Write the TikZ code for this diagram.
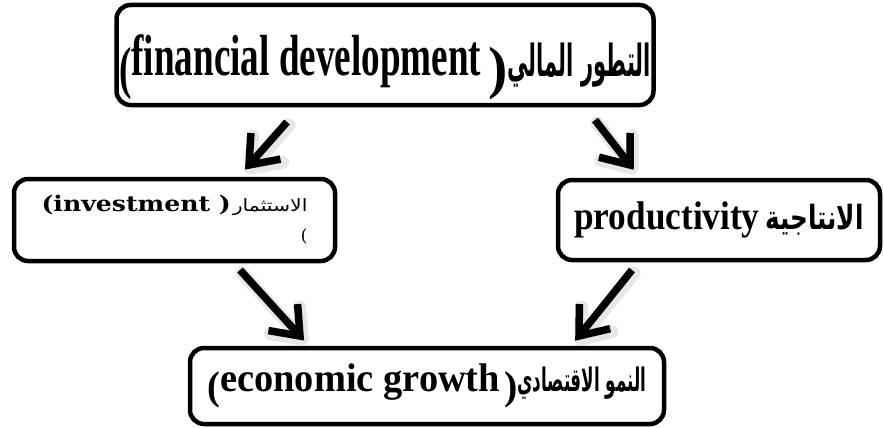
\documentclass[tikz,border=0pt]{standalone}
\usepackage{fontspec}
\setmainfont{Liberation Serif}
\newfontfamily\arabfont[Script=Arabic]{DejaVu Sans}
\newfontfamily\invfont{DejaVu Serif}
\TeXXeTstate=1
\usetikzlibrary{calc}
\newcommand{\lpar}{\raisebox{-0.2em}{(}}
\newcommand{\rpar}{\raisebox{-0.2em}{)}}
\newcommand{\chevarrow}[2]{%
  \draw[arrshadow] (#1) -- (#2) ($(#2)!32pt!38:(#1)$) -- (#2) -- ($(#2)!32pt!-38:(#1)$);
  \draw[arrline, shorten >=4pt] (#1) -- (#2);
  \draw[arrline] ($(#2)!32pt!38:(#1)$) -- (#2) -- ($(#2)!32pt!-38:(#1)$);}
\begin{document}
\begin{tikzpicture}[x=1pt,y=-1pt,
  box/.style={draw=black, line width=4.5pt, rounded corners=14pt, inner sep=0pt, fill=white},
  arrline/.style={line width=7.5pt, line join=miter, miter limit=10},
  arrshadow/.style={line width=13pt, draw=black!30, opacity=0.3, line join=round, line cap=round,
     transform canvas={shift={(2pt,-3pt)}}}]
\useasboundingbox (0,0) rectangle (884,428);
\fill[white] (0,0) rectangle (884,428);

\node[box, minimum width=537pt, minimum height=100pt] (fin) at (385,55)
  {\raisebox{-21pt}[0pt][0pt]{\bfseries\fontsize{58}{58}\selectfont\scalebox{0.64}[1]{\lpar financial development}\hspace{7pt}\rpar\scalebox{0.62}[1.3]{\arabfont\bfseries\fontsize{34}{34}\selectfont\beginR التطور المالي\endR}}};

\node[box, minimum width=321pt, minimum height=82pt, align=right] (inv) at (174.5,220)
  {\scalebox{1.17}[1]{\invfont\bfseries\fontsize{21.5}{21.5}\selectfont(investment )}\hspace{2pt}\scalebox{1.2}[1]{\arabfont\fontsize{17}{17}\selectfont\beginR الاستثمار\endR}\hspace{-4pt}\\[12pt]
   {\invfont\fontsize{17}{17}\selectfont(}\hspace{4pt}};

\node[box, minimum width=322pt, minimum height=80pt] (prod) at (719,220)
  {\bfseries\fontsize{40}{40}\selectfont\scalebox{0.88}[1]{productivity}\hspace{6pt}\scalebox{0.85}[1.15]{\arabfont\bfseries\fontsize{29}{29}\selectfont\beginR الانتاجية\endR}};

\node[box, minimum width=474pt, minimum height=76pt] (eco) at (427,386)
  {\raisebox{-3pt}{\bfseries\fontsize{40}{40}\selectfont\scalebox{0.96}[1]{\lpar economic growth}\hspace{4pt}\rpar\scalebox{0.62}[1.2]{\arabfont\bfseries\fontsize{27}{27}\selectfont\beginR النمو الاقتصادي\endR}}};

\coordinate (a1s) at (287,122);
\coordinate (a1t) at (249,165);
\coordinate (a2s) at (595,120);
\coordinate (a2t) at (630,165);
\coordinate (a3s) at (240,270);
\coordinate (a3t) at (300,336);
\coordinate (a4s) at (632,270);
\coordinate (a4t) at (579,336);

\chevarrow{a1s}{a1t}
\chevarrow{a2s}{a2t}
\chevarrow{a3s}{a3t}
\chevarrow{a4s}{a4t}
\end{tikzpicture}
\end{document}
